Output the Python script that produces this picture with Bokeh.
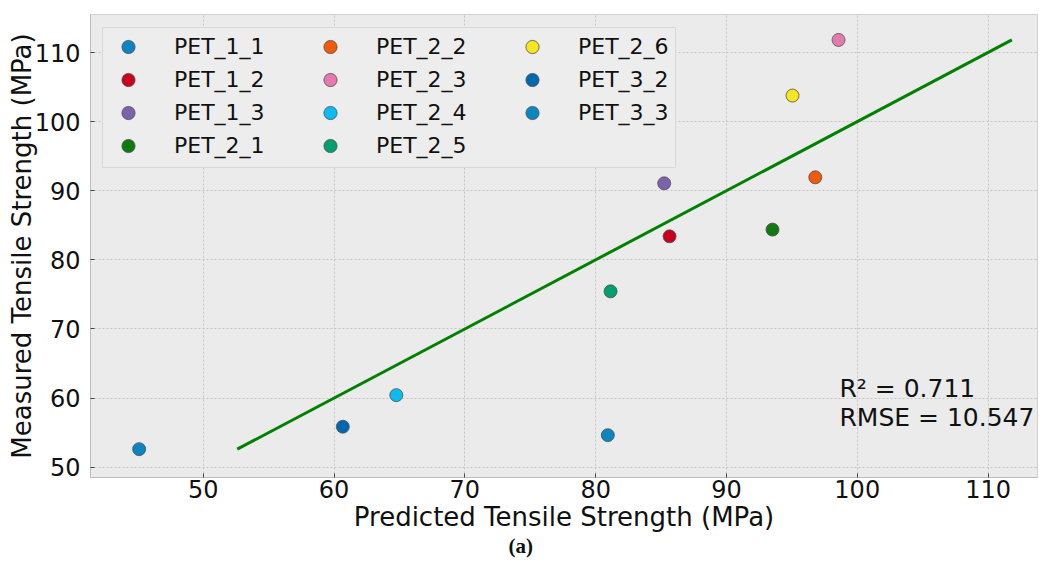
from bokeh.plotting import figure
from bokeh.models import Range1d, Legend, LegendItem, Label, Title, ColumnDataSource, BoxAnnotation
from bokeh.embed import file_html
from bokeh.resources import INLINE

# ---- data ----
samples = ["PET_1_1", "PET_1_2", "PET_1_3", "PET_2_1", "PET_2_2", "PET_2_3",
           "PET_2_4", "PET_2_5", "PET_2_6", "PET_3_2", "PET_3_3"]
predicted = [45.1, 85.65, 85.24, 93.52, 96.79, 98.57, 64.76, 81.14, 95.05, 60.67, 80.93]
measured = [52.6, 83.4, 91.07, 84.37, 91.94, 111.82, 60.42, 75.44, 103.77, 55.85, 54.63]
colors = ["#0B84C4", "#C8001E", "#7B62AA", "#107A10", "#F05A0A", "#E47AAE",
          "#0ABCF0", "#00A070", "#F5E620", "#0068B0", "#0C86C0"]
x_ticks = [50, 60, 70, 80, 90, 100, 110]
y_ticks = [50, 60, 70, 80, 90, 100, 110]
r2 = 0.711
rmse = 10.547
caption = "(a)"

FONT = "DejaVu Sans"

p = figure(width=1039, height=566, output_backend="svg", toolbar_location=None,
           x_range=Range1d(41.38, 113.78), y_range=Range1d(48.5, 115.5),
           min_border_left=90, min_border_right=2, min_border_top=14, min_border_bottom=89,
           background_fill_color="#EBEBEB", border_fill_color="white",
           outline_line_color="#D0D0D0")

# legend background box (screen units, relative to frame)
p.add_layout(BoxAnnotation(left=12, right=585, top=450, bottom=310,
                           left_units="screen", right_units="screen",
                           top_units="screen", bottom_units="screen",
                           fill_color="#EDEDED", fill_alpha=1.0,
                           line_color="#D8D8D8", line_width=1, line_alpha=1.0))

# ideal line y = x
lo, hi = min(measured), max(measured)
p.line([lo, hi], [lo, hi], line_color="#008000", line_width=3)

items = []
for s, xv, yv, c in zip(samples, predicted, measured, colors):
    src = ColumnDataSource(dict(x=[xv], y=[yv]))
    r = p.scatter("x", "y", source=src, size=13, fill_color=c, line_color="#505050",
                  line_width=0.8)
    items.append(LegendItem(label=s, renderers=[r]))

legend = Legend(items=items, location="top_left", nrows=4,
                glyph_width=44, glyph_height=33, label_height=33, label_width=134,
                label_standoff=24, spacing=0, padding=4, margin=12,
                label_text_font=FONT, label_text_font_size="22px", label_text_color="#111111",
                background_fill_alpha=0.0, border_line_alpha=0.0)
p.add_layout(legend)

# grid
p.grid.grid_line_color = "#C4C4C4"
p.grid.grid_line_dash = "2 2"
p.grid.grid_line_width = 1

# axes
p.xaxis.ticker = x_ticks
p.yaxis.ticker = y_ticks
for ax in (p.xaxis, p.yaxis):
    ax.axis_line_color = "#BCBCBC"
    ax.major_tick_in = 4
    ax.major_tick_out = 0
    ax.minor_tick_line_color = None
    ax.major_tick_line_color = "#444444"
    ax.major_label_text_font = FONT
    ax.major_label_text_font_size = "24px"
    ax.major_label_text_color = "#111111"
    ax.axis_label_text_font = FONT
    ax.axis_label_text_font_style = "normal"
    ax.axis_label_text_color = "#111111"
p.xaxis.axis_label_text_font_size = "26px"
p.yaxis.axis_label_text_font_size = "26px"
p.xaxis.axis_label = "Predicted Tensile Strength (MPa)"
p.yaxis.axis_label = "Measured Tensile Strength (MPa)"
p.xaxis.major_label_standoff = 2
p.xaxis.axis_label_standoff = 1
p.yaxis.major_label_standoff = 10
p.yaxis.axis_label_standoff = -5

# annotation
p.add_layout(Label(x=98.64, y=61.4, text=f"R\u00b2 = {r2:.3f}",
                   text_font=FONT, text_font_size="25px", text_baseline="alphabetic",
                   text_color="#111111"))
p.add_layout(Label(x=98.64, y=57.2, text=f"RMSE = {rmse:.3f}",
                   text_font=FONT, text_font_size="25px", text_baseline="alphabetic",
                   text_color="#111111"))

# caption below the axis
p.add_layout(Title(text=caption, align="left", offset=418, standoff=-5,
                   text_font="Liberation Serif", text_font_size="21px",
                   text_font_style="bold", text_color="#111111"), "below")

open("out.html", "w").write(file_html(p, INLINE))
